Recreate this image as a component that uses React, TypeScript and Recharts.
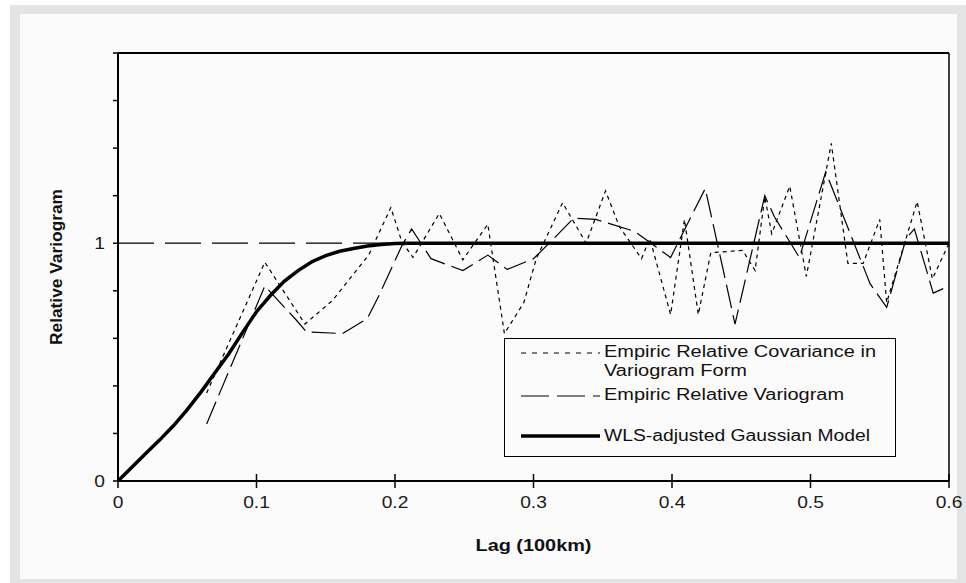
import { LineChart, Line, XAxis, YAxis, ReferenceLine, Legend, Label } from "recharts";

const xTicks = [0, 0.1, 0.2, 0.3, 0.4, 0.5, 0.6];
const yTicks = [0, 0.2, 0.4, 0.6, 0.8, 1, 1.2, 1.4, 1.6, 1.8];
const yLabeled = [0, 1];

// WLS-adjusted Gaussian model
const modelLag = [0, 0.01, 0.02, 0.03, 0.04, 0.05, 0.06, 0.07, 0.08, 0.09, 0.1, 0.11, 0.12, 0.13, 0.14, 0.15, 0.16, 0.17, 0.18, 0.19, 0.2, 0.21, 0.3, 0.4, 0.5, 0.6];
const modelVal = [0, 0.058, 0.116, 0.172, 0.232, 0.3, 0.375, 0.455, 0.535, 0.625, 0.712, 0.78, 0.84, 0.885, 0.922, 0.948, 0.966, 0.978, 0.988, 0.995, 0.999, 1, 1, 1, 1, 1];

// empiric relative covariance in variogram form
const covLag = [0.064, 0.106, 0.135, 0.155, 0.172, 0.181, 0.197, 0.205, 0.213, 0.232, 0.249, 0.267, 0.279, 0.293, 0.302, 0.321, 0.338, 0.352, 0.362, 0.378, 0.384, 0.399, 0.409, 0.419, 0.428, 0.451, 0.46, 0.467, 0.472, 0.485, 0.497, 0.515, 0.527, 0.538, 0.55, 0.555, 0.577, 0.588, 0.6];
const covVal = [0.37, 0.92, 0.66, 0.76, 0.885, 0.95, 1.15, 1.005, 0.94, 1.125, 0.93, 1.08, 0.62, 0.75, 0.935, 1.17, 1.0, 1.22, 1.07, 0.935, 1.02, 0.7, 1.1, 0.7, 0.96, 0.97, 0.885, 1.195, 1.04, 1.24, 0.86, 1.42, 0.915, 0.915, 1.1, 0.75, 1.175, 0.85, 1.0];

// empiric relative variogram
const varLag = [0.064, 0.106, 0.129, 0.136, 0.162, 0.18, 0.188, 0.205, 0.212, 0.226, 0.249, 0.267, 0.281, 0.3, 0.313, 0.329, 0.345, 0.373, 0.399, 0.424, 0.4365, 0.4455, 0.467, 0.474, 0.492, 0.511, 0.543, 0.555, 0.569, 0.575, 0.5886, 0.6];
const varVal = [0.24, 0.82, 0.675, 0.627, 0.62, 0.683, 0.775, 0.99, 1.06, 0.935, 0.885, 0.95, 0.89, 0.935, 1.01, 1.105, 1.1, 1.05, 0.94, 1.23, 0.9, 0.66, 1.2, 1.11, 0.94, 1.3, 0.83, 0.73, 1.02, 1.06, 0.79, 0.82];

const zip = (h: number[], v: number[]) => h.map((x, i) => ({ h: x, v: v[i] }));

const FONT = '"Liberation Sans", Arial, Helvetica, sans-serif';
const STRETCH = 1.2;

function XTick({ x, y, payload }: any) {
  const axisY = y - 16;
  return (
    <g>
      <line x1={x} x2={x} y1={axisY - 7} y2={axisY + 7} stroke="#000" strokeWidth={1.5} />
      <g transform={`translate(${x},${y})`}>
        <text textAnchor="middle" dy="0.71em" transform={`scale(${STRETCH},1)`} fontSize={16} fontFamily={FONT} fill="#1a1a1a">
          {payload.value}
        </text>
      </g>
    </g>
  );
}

function YTick({ x, y, payload }: any) {
  if (!yLabeled.includes(payload.value)) return null;
  return (
    <g transform={`translate(${x},${y})`}>
      <text textAnchor="end" dy="0.36em" transform={`scale(${STRETCH},1)`} fontSize={16} fontFamily={FONT} fill="#1a1a1a">
        {payload.value}
      </text>
    </g>
  );
}

function XTitle({ viewBox }: any) {
  const cx = viewBox.x + viewBox.width / 2;
  return (
    <text x={cx - 58} y={551} textLength={116} lengthAdjust="spacingAndGlyphs" fontSize={16} fontWeight="bold" fontFamily={FONT} fill="#111">
      Lag (100km)
    </text>
  );
}

function YTitle({ viewBox }: any) {
  const cy = viewBox.y + viewBox.height / 2;
  return (
    <text transform={`translate(62,${cy}) rotate(-90)`} x={-78} y={0} textLength={156} lengthAdjust="spacingAndGlyphs" fontSize={16} fontWeight="bold" fontFamily={FONT} fill="#111">
      Relative Variogram
    </text>
  );
}

function LegendText({ x, y, width, children }: any) {
  return (
    <text x={x} y={y} textLength={width} lengthAdjust="spacingAndGlyphs" fontSize={16} fontFamily={FONT} fill="#111">
      {children}
    </text>
  );
}

function LegendBox() {
  return (
    <svg width={392} height={119} style={{ display: "block" }}>
      <rect x={0.5} y={0.5} width={391} height={118} fill="#fbfbfb" stroke="#000" />
      <line x1={17} x2={96} y1={15} y2={15} stroke="#000" strokeWidth={1.2} strokeDasharray="5 6" />
      <LegendText x={100} y={19} width={272}>Empiric Relative Covariance in</LegendText>
      <LegendText x={100} y={38} width={143}>Variogram Form</LegendText>
      <line x1={17} x2={96} y1={58} y2={58} stroke="#000" strokeWidth={1.2} strokeDasharray="28 8" />
      <LegendText x={100} y={62} width={240}>Empiric Relative Variogram</LegendText>
      <line x1={17} x2={96} y1={98} y2={98} stroke="#000" strokeWidth={3.5} />
      <LegendText x={100} y={103} width={266}>WLS-adjusted Gaussian Model</LegendText>
    </svg>
  );
}

export default function App() {
  return (
    <div style={{ position: "absolute", left: 0, top: 0, width: 966, height: 583, background: "#fff", overflow: "hidden" }}>
      <div style={{ position: "absolute", left: 10, top: 5, width: 956, height: 578, background: "#e4e4e4" }} />
      <div style={{ position: "absolute", left: 20, top: 14, width: 937, height: 565, background: "#fbfbfb" }} />
      <div style={{ position: "absolute", left: 0, top: 0 }}>
        <LineChart width={966} height={583} margin={{ top: 53, right: 17, bottom: 42, left: 58 }}>
          <XAxis
            dataKey="h"
            type="number"
            domain={[0, 0.6]}
            ticks={xTicks}
            interval={0}
            height={60}
            tickSize={7}
            tickMargin={9}
            tickLine={false}
            tick={<XTick />}
            axisLine={{ stroke: "#000", strokeWidth: 2 }}
            allowDataOverflow
          >
            <Label content={<XTitle />} />
          </XAxis>
          <YAxis
            type="number"
            domain={[0, 1.8]}
            ticks={yTicks}
            interval={0}
            width={60}
            tickSize={5}
            tickMargin={8}
            tickLine={{ stroke: "#000", strokeWidth: 1.5 }}
            tick={<YTick />}
            axisLine={{ stroke: "#000", strokeWidth: 2 }}
            allowDataOverflow
          >
            <Label content={<YTitle />} />
          </YAxis>
          <ReferenceLine y={1} stroke="#000" strokeWidth={1.2} strokeDasharray="36 11" />
          <ReferenceLine y={1.8} stroke="#000" strokeWidth={2} />
          <ReferenceLine x={0.6} stroke="#000" strokeWidth={1.5} />
          <Line
            data={zip(covLag, covVal)}
            dataKey="v"
            name="Empiric Relative Covariance in Variogram Form"
            type="linear"
            stroke="#000"
            strokeWidth={1.2}
            strokeDasharray="4 4"
            dot={false}
            activeDot={false}
            isAnimationActive={false}
          />
          <Line
            data={zip(varLag, varVal)}
            dataKey="v"
            name="Empiric Relative Variogram"
            type="linear"
            stroke="#000"
            strokeWidth={1.2}
            strokeDasharray="24 7"
            dot={false}
            activeDot={false}
            isAnimationActive={false}
          />
          <Line
            data={zip(modelLag, modelVal)}
            dataKey="v"
            name="WLS-adjusted Gaussian Model"
            type="linear"
            stroke="#000"
            strokeWidth={3.5}
            dot={false}
            activeDot={false}
            isAnimationActive={false}
          />
          <Legend
            layout="horizontal"
            verticalAlign="middle"
            align="center"
            content={<LegendBox />}
            wrapperStyle={{ left: 504, top: 338, width: 392, height: 119, margin: 0, padding: 0 }}
          />
        </LineChart>
      </div>
    </div>
  );
}
